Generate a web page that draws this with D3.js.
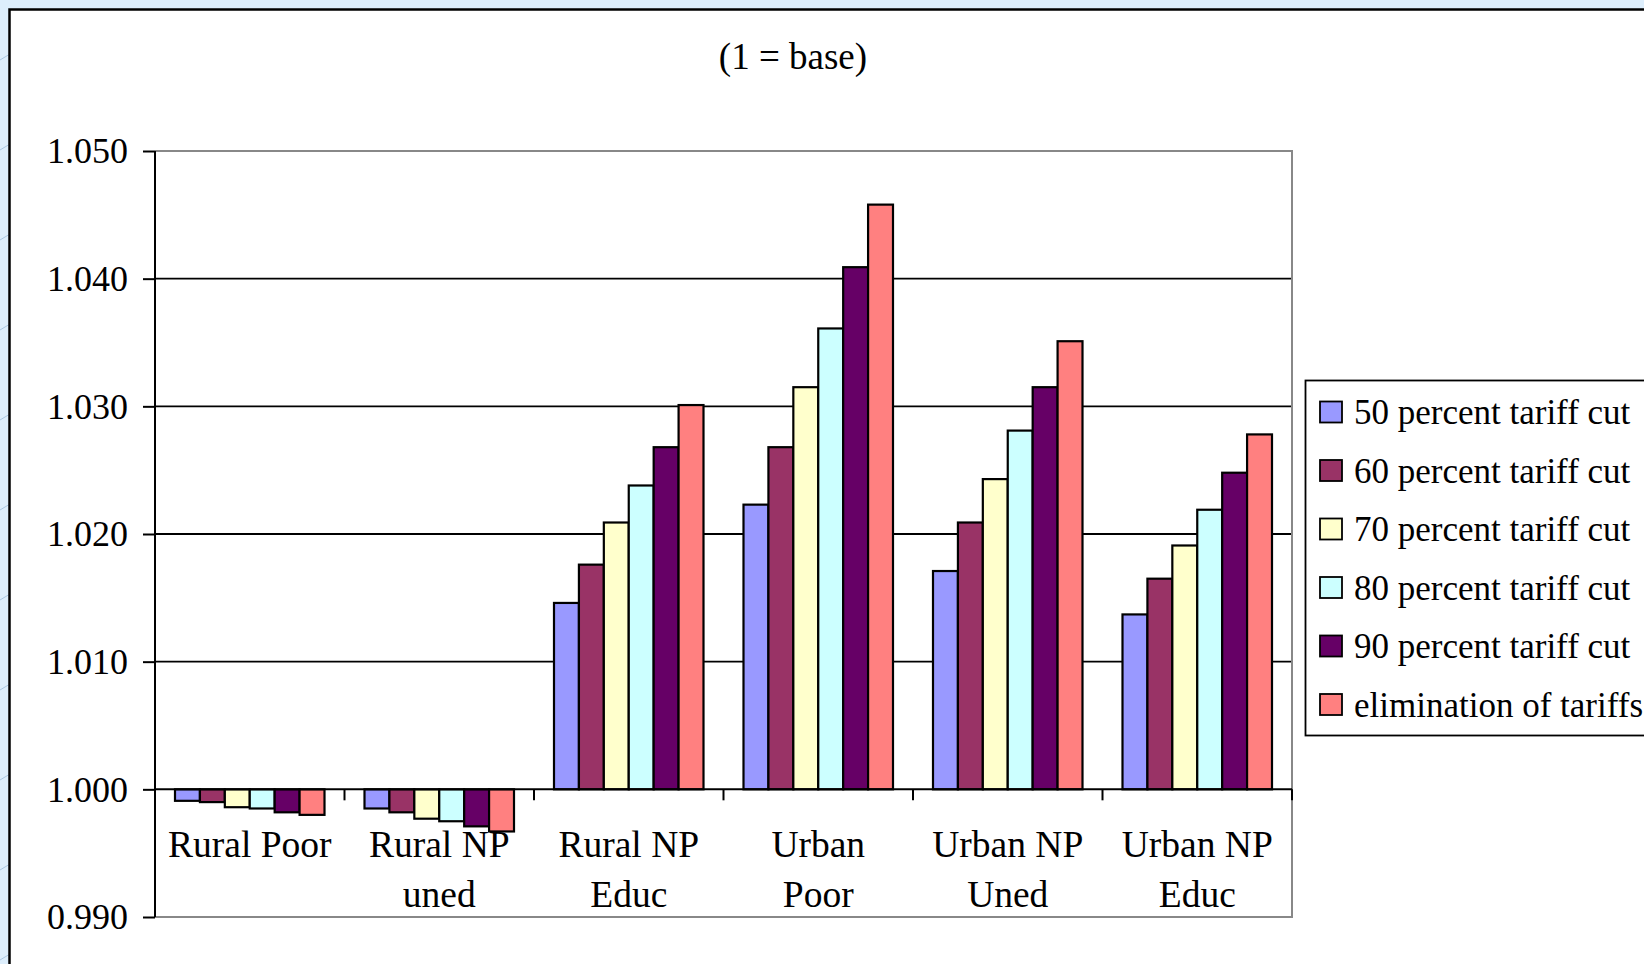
<!DOCTYPE html>
<html>
<head>
<meta charset="utf-8">
<script src="https://cdn.jsdelivr.net/npm/d3@7"></script>
<style>
  html, body { margin: 0; padding: 0; background: #ddeefc; }
  svg { display: block; }
  text { font-family: "Liberation Serif", "Times New Roman", serif; fill: #000; }
</style>
</head>
<body>
<svg id="chart" width="1644" height="964"></svg>
<script>
// Household groups (two-line category labels)
const categories = ["Rural Poor", "Rural NP uned", "Rural NP Educ", "Urban Poor", "Urban NP Uned", "Urban NP Educ"];
const categoryLines = [["Rural Poor"], ["Rural NP", "uned"], ["Rural NP", "Educ"], ["Urban", "Poor"], ["Urban NP", "Uned"], ["Urban NP", "Educ"]];

// Scenarios
const seriesNames = ["50 percent tariff cut", "60 percent tariff cut", "70 percent tariff cut",
                     "80 percent tariff cut", "90 percent tariff cut", "elimination of tariffs"];
const seriesColors = ["#9999ff", "#993366", "#ffffcc", "#ccffff", "#660066", "#ff8080"];

// Welfare index per scenario, one value per household group (1 = base)
const cut50 = [0.9991, 0.9985, 1.0146, 1.0223, 1.0171, 1.0137];
const cut60 = [0.9990, 0.9982, 1.0176, 1.0268, 1.0209, 1.0165];
const cut70 = [0.9986, 0.9977, 1.0209, 1.0315, 1.0243, 1.0191];
const cut80 = [0.9985, 0.9975, 1.0238, 1.0361, 1.0281, 1.0219];
const cut90 = [0.9982, 0.9971, 1.0268, 1.0409, 1.0315, 1.0248];
const cutAll = [0.9980, 0.9967, 1.0301, 1.0458, 1.0351, 1.0278];
const seriesValues = [cut50, cut60, cut70, cut80, cut90, cutAll];

const yTicks = [0.99, 1.00, 1.01, 1.02, 1.03, 1.04, 1.05];
const baseValue = 1.0;
const titleText = "(1 = base)";

const svg = d3.select("#chart");

// Sheet background with faint diagonal hatching
const defs = svg.append("defs");
const pat = defs.append("pattern")
  .attr("id", "hatch").attr("patternUnits", "userSpaceOnUse")
  .attr("width", 140).attr("height", 90);
pat.append("rect").attr("width", 140).attr("height", 90).attr("fill", "#ddeefc");
pat.append("line").attr("x1", 0).attr("y1", 60).attr("x2", 70).attr("y2", 18)
  .attr("stroke", "#aac6e2").attr("stroke-width", 1);
pat.append("line").attr("x1", 70).attr("y1", 90).attr("x2", 140).attr("y2", 48)
  .attr("stroke", "#aac6e2").attr("stroke-width", 1);
svg.append("rect").attr("width", 1644).attr("height", 964).attr("fill", "url(#hatch)");

// Chart area
svg.append("rect")
  .attr("x", 9.5).attr("y", 9.5).attr("width", 1700).attr("height", 1000)
  .attr("fill", "#fff").attr("stroke", "#000").attr("stroke-width", 2.5);

// Title
svg.append("text")
  .attr("x", 793).attr("y", 69)
  .attr("text-anchor", "middle")
  .style("font-size", "37px")
  .text(titleText);

// Scales
const plotLeft = 155, plotRight = 1292, plotTop = 151, plotBottom = 917;
const y = d3.scaleLinear().domain([0.99, 1.05]).range([plotBottom, plotTop]);
const x0 = d3.scaleBand().domain(categories).range([plotLeft, plotRight]).padding(0);
const groupPad = 20;
const x1 = d3.scaleBand().domain(seriesNames)
  .range([groupPad, x0.bandwidth() - groupPad]).padding(0);

// Gridlines
svg.append("g")
  .selectAll("line")
  .data(yTicks.filter(t => t > 0.995 && t < 1.045 && t !== baseValue))
  .join("line")
  .attr("x1", plotLeft).attr("x2", plotRight)
  .attr("y1", d => y(d)).attr("y2", d => y(d))
  .attr("stroke", "#000").attr("stroke-width", 1.8);

// Plot area frame (top, right, bottom)
svg.append("path")
  .attr("d", `M${plotLeft},${plotTop}H${plotRight}V${plotBottom}H${plotLeft}`)
  .attr("fill", "none").attr("stroke", "#888").attr("stroke-width", 2);

// Bars
const groups = svg.append("g")
  .selectAll("g")
  .data(categories)
  .join("g")
  .attr("transform", d => `translate(${x0(d)},0)`);

groups.selectAll("rect")
  .data((c, ci) => seriesNames.map((s, si) => ({ s, si, v: seriesValues[si][ci] })))
  .join("rect")
  .attr("x", d => x1(d.s))
  .attr("width", x1.bandwidth())
  .attr("y", d => Math.min(y(d.v), y(baseValue)))
  .attr("height", d => Math.abs(y(d.v) - y(baseValue)))
  .attr("fill", d => seriesColors[d.si])
  .attr("stroke", "#000").attr("stroke-width", 2.2);

// Y axis
const yAxis = d3.axisLeft(y).tickValues(yTicks).tickFormat(d3.format(".3f"))
  .tickSize(12).tickPadding(15);
const yg = svg.append("g").attr("transform", `translate(${plotLeft},0)`).call(yAxis);
yg.select(".domain").attr("stroke", "#000").attr("stroke-width", 2)
  .attr("d", `M0,${plotTop}V${plotBottom}`);
yg.selectAll(".tick line").attr("stroke", "#000").attr("stroke-width", 2);
yg.selectAll(".tick text")
  .style("font-family", "'Liberation Serif', 'Times New Roman', serif")
  .style("font-size", "36px").attr("fill", "#000").attr("dy", "0.33em");

// Category axis along the base value
const xAxis = d3.axisBottom(x0).tickSize(0).tickFormat("");
const xg = svg.append("g").attr("transform", `translate(0,${y(baseValue)})`).call(xAxis);
xg.select(".domain").attr("stroke", "#000").attr("stroke-width", 2)
  .attr("d", `M${plotLeft},0H${plotRight}`);
xg.selectAll(".boundary")
  .data(categories)
  .join("line")
  .attr("class", "boundary")
  .attr("x1", d => x0(d) + x0.bandwidth()).attr("x2", d => x0(d) + x0.bandwidth())
  .attr("y1", 0).attr("y2", 11)
  .attr("stroke", "#000").attr("stroke-width", 2);

// Category labels
const labels = svg.append("g")
  .selectAll("text")
  .data(categories)
  .join("text")
  .attr("text-anchor", "middle")
  .style("font-size", "37.5px")
  .attr("transform", d => `translate(${x0(d) + x0.bandwidth() / 2},857)`);
labels.selectAll("tspan")
  .data((d, i) => categoryLines[i])
  .join("tspan")
  .attr("x", 0)
  .attr("y", (d, i) => i * 50)
  .text(d => d);

// Legend
const legend = svg.append("g");
legend.append("rect")
  .attr("x", 1305.5).attr("y", 380.5).attr("width", 400).attr("height", 355)
  .attr("fill", "#fff").attr("stroke", "#000").attr("stroke-width", 1.8);
const rows = legend.selectAll("g.row")
  .data(seriesNames)
  .join("g")
  .attr("class", "row")
  .attr("transform", (d, i) => `translate(0,${412 + i * 58.5})`);
rows.append("rect")
  .attr("x", 1320).attr("y", -10.5).attr("width", 22).attr("height", 21)
  .attr("fill", (d, i) => seriesColors[i])
  .attr("stroke", "#000").attr("stroke-width", 1.8);
rows.append("text")
  .attr("x", 1354).attr("y", 12)
  .style("font-size", "35px")
  .text(d => d);
</script>
</body>
</html>
